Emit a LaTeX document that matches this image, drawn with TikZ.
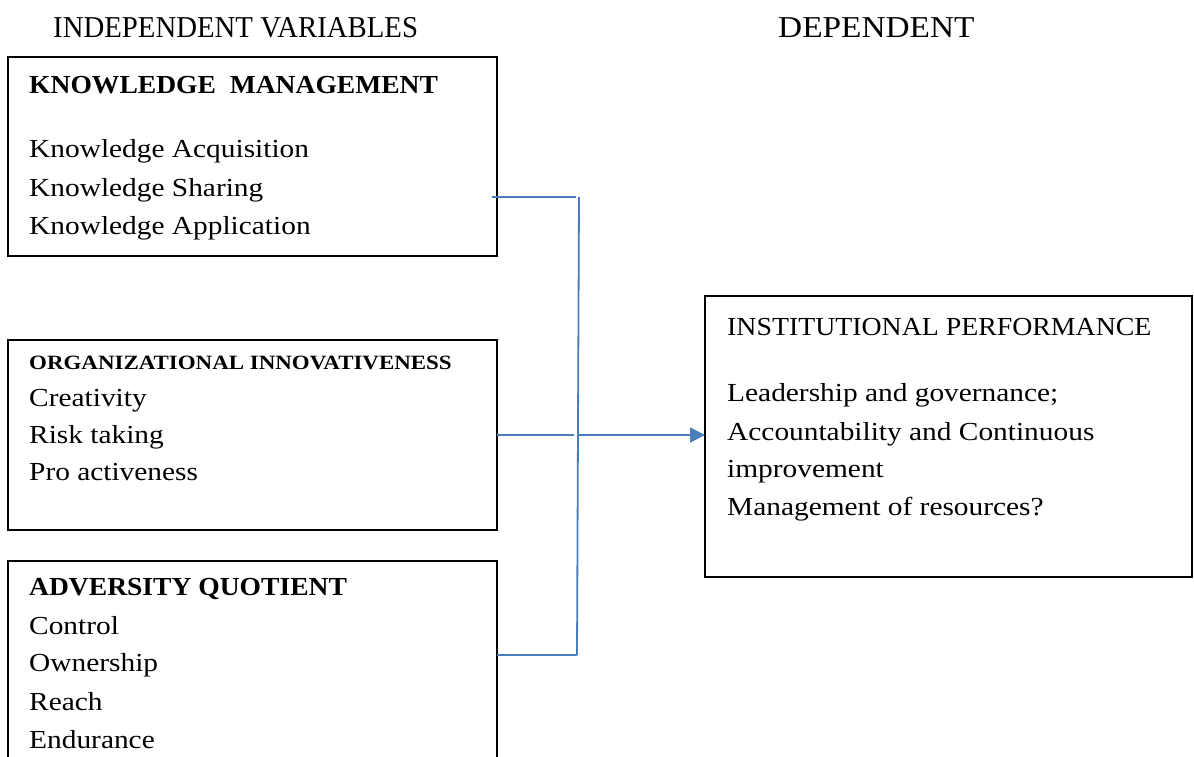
\documentclass[tikz,border=0pt]{standalone}
\usepackage{fontspec}
\setmainfont{Liberation Serif}
% widened / narrowed cuts of the serif face for the different text roles
\newfontfamily\bodyfont{Liberation Serif}[FakeStretch=1.13]
\newfontfamily\titlefont{Liberation Serif}[FakeStretch=1.06]
\newfontfamily\headfont{Liberation Serif}[FakeStretch=0.95]
\newfontfamily\depfont{Liberation Serif}[FakeStretch=1.10]
\newfontfamily\iptfont{Liberation Serif}[FakeStretch=1.07]
\usetikzlibrary{arrows.meta}
\definecolor{linkblue}{HTML}{4A7EBB}
\tikzset{
  x=1pt, y=-1pt,
  frame/.style={draw=black, line width=1.6pt},
  line/.style={draw=linkblue, line width=1.8pt},
  txt/.style={anchor=base west, inner sep=0pt, font=\bodyfont\fontsize{26}{30}\selectfont},
  ttl/.style={txt, font=\titlefont\fontsize{26}{30}\selectfont\bfseries},
  smallttl/.style={txt, font=\bodyfont\fontsize{20.3}{24}\selectfont\bfseries},
  ipttl/.style={txt, font=\iptfont\fontsize{26}{30}\selectfont},
  head/.style={txt, font=\headfont\fontsize{30.3}{36}\selectfont},
  dephead/.style={txt, font=\depfont\fontsize{30.3}{36}\selectfont},
}
\begin{document}
\begin{tikzpicture}
\useasboundingbox (0,0) rectangle (1194,756);
\clip (0,0) rectangle (1194,756);

% column headings
\node[head] (hind) at (53,37) {INDEPENDENT VARIABLES};
\node[dephead] (hdep) at (778,37) {DEPENDENT};

% knowledge management
\draw[frame] (8,57) rectangle (497,256);
\node[ttl] (kmt) at (29,93) {KNOWLEDGE\ \ MANAGEMENT};
\node[txt] (km1) at (29,157) {Knowledge Acquisition};
\node[txt] (km2) at (29,196) {Knowledge Sharing};
\node[txt] (km3) at (29,234) {Knowledge Application};

% organizational innovativeness
\draw[frame] (8,340) rectangle (497,530);
\node[smallttl] (oit) at (29,369) {ORGANIZATIONAL INNOVATIVENESS};
\node[txt] (oi1) at (29,406) {Creativity};
\node[txt] (oi2) at (29,443) {Risk taking};
\node[txt] (oi3) at (29,480) {Pro activeness};

% adversity quotient (box runs past the lower edge)
\draw[frame] (8,780) -- (8,561) -- (497,561) -- (497,780);
\node[ttl] (aqt) at (29,595) {ADVERSITY QUOTIENT};
\node[txt] (aq1) at (29,634) {Control};
\node[txt] (aq2) at (29,671) {Ownership};
\node[txt] (aq3) at (29,710) {Reach};
\node[txt] (aq4) at (29,748) {Endurance};

% institutional performance
\draw[frame] (705,296) rectangle (1192,577);
\node[ipttl] (ipt) at (727,335) {INSTITUTIONAL PERFORMANCE};
\node[txt] (ip1) at (727,401) {Leadership and governance;};
\node[txt] (ip2) at (727,440) {Accountability and Continuous};
\node[txt] (ip3) at (727,477) {improvement};
\node[txt] (ip4) at (727,515) {Management of resources?};

% connectors
\coordinate (kmout) at (492,197);
\coordinate (oiout) at (497,435);
\coordinate (aqout) at (497,655);
\coordinate (bt) at (579,197);
\coordinate (bm) at (577,435);
\coordinate (bb) at (577,655);
\coordinate (ipin) at (705,435);
\draw[line] (kmout) -- (576,197);
\draw[line] (bt) -- (bb);
\draw[line] (oiout) -- (574,435);
\draw[line] (aqout) -- (bb);
\draw[line, -{Triangle[length=15pt, width=15pt]}] (bm) -- (ipin);
\end{tikzpicture}
\end{document}
